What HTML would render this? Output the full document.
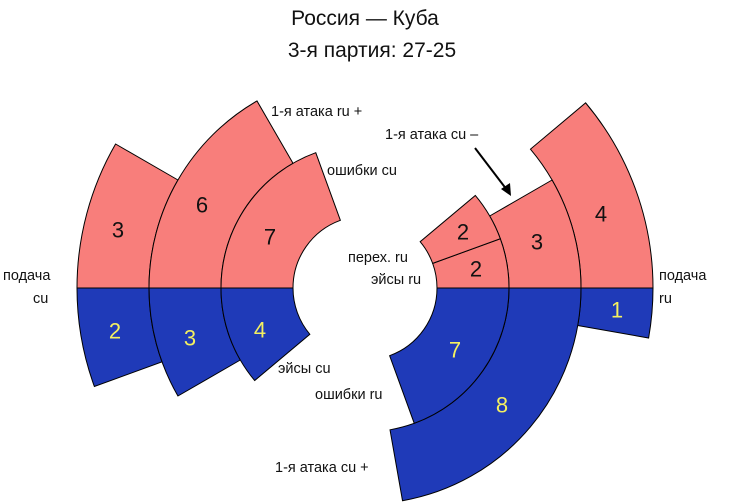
<!DOCTYPE html>
<html><head><meta charset="utf-8"><style>
html,body{margin:0;padding:0;background:#fff;}
svg{display:block;font-family:"Liberation Sans","DejaVu Sans",sans-serif;}
.t{font-size:21px;fill:#111;}
.l{font-size:14.5px;fill:#111;}
.n{font-size:22px;text-anchor:middle;dominant-baseline:central;}
.k{fill:#111;}
.y{fill:#f4f060;}
</style></head><body>
<svg id="s" width="730" height="504" viewBox="0 0 730 504" xmlns="http://www.w3.org/2000/svg">
<g id="g"></g>
<text class="t" x="365" y="25" text-anchor="middle">Россия — Куба</text>
<text class="t" x="372" y="57" text-anchor="middle">3-я партия: 27-25</text>
<text class="l" x="271" y="116">1-я атака ru +</text>
<text class="l" x="327" y="175">ошибки cu</text>
<text class="l" x="3" y="280">подача</text>
<text class="l" x="33" y="303">cu</text>
<text class="l" x="278" y="373">эйсы cu</text>
<text class="l" x="385" y="139">1-я атака cu –</text>
<line x1="475" y1="148" x2="507" y2="190" stroke="#000" stroke-width="2"/>
<polygon points="511,196 501,189 510,183" fill="#000"/>
<text class="l" x="348" y="262">перех. ru</text>
<text class="l" x="371" y="284">эйсы ru</text>
<text class="l" x="659" y="280">подача</text>
<text class="l" x="659" y="303">ru</text>
<text class="l" x="315" y="399">ошибки ru</text>
<text class="l" x="275" y="472">1-я атака cu +</text>
<text class="n k" x="118" y="230">3</text>
<text class="n k" x="202" y="205">6</text>
<text class="n k" x="270" y="237">7</text>
<text class="n y" x="115" y="331">2</text>
<text class="n y" x="190" y="338">3</text>
<text class="n y" x="260" y="330">4</text>
<text class="n k" x="463" y="232">2</text>
<text class="n k" x="476" y="269">2</text>
<text class="n k" x="537" y="242">3</text>
<text class="n k" x="601" y="214">4</text>
<text class="n y" x="617" y="310">1</text>
<text class="n y" x="455" y="350">7</text>
<text class="n y" x="502" y="405">8</text>
</svg>
<script>
var cx=365,cy=288,P="#f87e7b",B="#1f3ab8";
function p(r,a){a=a*Math.PI/180;return (cx+r*Math.cos(a)).toFixed(2)+","+(cy-r*Math.sin(a)).toFixed(2);}
function sec(r0,r1,a1,a2,c){ // a1<a2 CCW
 var d="M"+p(r0,a1)+" L"+p(r1,a1)+" A"+r1+","+r1+" 0 0 0 "+p(r1,a2)+" L"+p(r0,a2)+" A"+r0+","+r0+" 0 0 1 "+p(r0,a1)+" Z";
 return '<path d="'+d+'" fill="'+c+'" stroke="#000" stroke-width="1"/>';}
var h="";
// left pink
h+=sec(216,288,150,180,P);h+=sec(144,216,120,180,P);h+=sec(72,144,110,180,P);
// left blue
h+=sec(216,288,180,200,B);h+=sec(144,216,180,210,B);h+=sec(72,144,180,220,B);
// right pink
h+=sec(216,288,0,40,P);h+=sec(144,216,0,30,P);h+=sec(72,144,0,20,P);h+=sec(72,144,20,40,P);
// right blue
h+=sec(216,288,-10,0,B);h+=sec(144,216,-80,0,B);h+=sec(72,144,-70,0,B);
document.getElementById("g").innerHTML=h;
</script>
</body></html>
